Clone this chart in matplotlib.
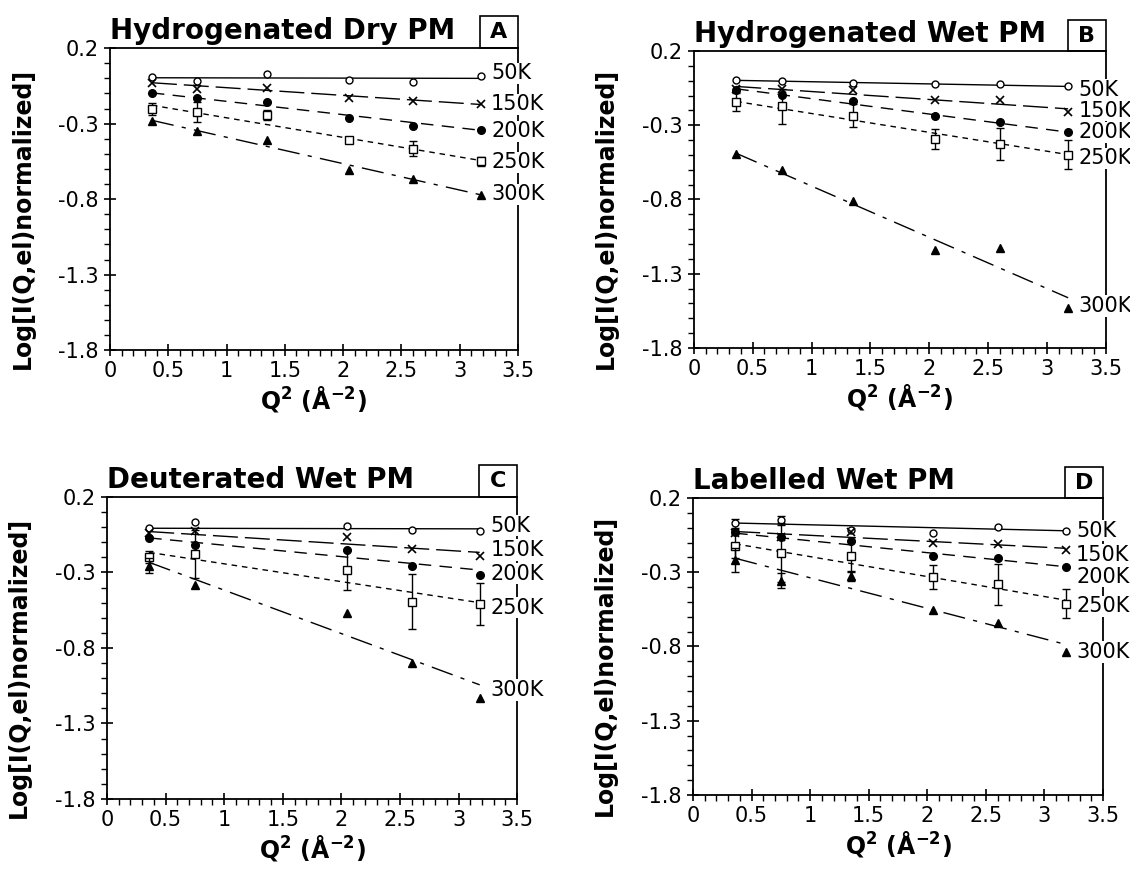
import numpy as np
import matplotlib
matplotlib.use("Agg")
import matplotlib.pyplot as plt
from matplotlib.patches import Rectangle

# Q^2 positions of the measurements (panel C has no point at 1.35)
q2 = [0.36, 0.75, 1.35, 2.05, 2.6, 3.18]
q2_c = [0.36, 0.75, 2.05, 2.6, 3.18]
temps = ["50K", "150K", "200K", "250K", "300K"]

# panel A - hydrogenated dry
a_50 = [0.011, -0.016, 0.027, -0.011, -0.022, 0.015]
a_150 = [-0.033, -0.073, -0.067, -0.129, -0.149, -0.173]
a_200 = [-0.100, -0.133, -0.156, -0.260, -0.316, -0.344]
a_250 = [-0.200, -0.222, -0.244, -0.411, -0.467, -0.549]
a_300 = [-0.284, -0.349, -0.407, -0.604, -0.667, -0.773]
a_250_err = [0.04, 0.065, 0.035, 0.02, 0.05, 0.03]
a_fit_start = [0.004, -0.029, -0.096, -0.178, -0.278]
a_fit_end = [0.0, -0.173, -0.344, -0.544, -0.771]

# panel B - hydrogenated wet
b_50 = [0.002, -0.003, -0.014, -0.021, -0.021, -0.039]
b_150 = [-0.055, -0.055, -0.066, -0.127, -0.133, -0.208]
b_200 = [-0.066, -0.095, -0.140, -0.237, -0.280, -0.347]
b_250 = [-0.145, -0.174, -0.235, -0.392, -0.426, -0.498]
b_300 = [-0.494, -0.600, -0.813, -1.142, -1.124, -1.530]
b_250_err = [0.06, 0.12, 0.08, 0.065, 0.11, 0.10]
b_fit_start = [0.002, -0.039, -0.055, -0.140, -0.489]
b_fit_end = [-0.039, -0.190, -0.347, -0.498, -1.462]

# panel C - deuterated wet
c_50 = [-0.005, 0.033, 0.009, -0.018, -0.022]
c_150 = [-0.040, -0.022, -0.067, -0.144, -0.189]
c_200 = [-0.071, -0.118, -0.151, -0.256, -0.316]
c_250 = [-0.196, -0.178, -0.284, -0.493, -0.511]
c_300 = [-0.256, -0.382, -0.567, -0.900, -1.133]
c_250_err = [0.04, 0.16, 0.13, 0.18, 0.14]
c_300_err = [0.05, 0, 0, 0, 0]
c_fit_start = [-0.007, -0.029, -0.071, -0.167, -0.233]
c_fit_end = [-0.011, -0.167, -0.284, -0.500, -1.044]

# panel D - labelled wet
d_50 = [0.031, 0.049, -0.014, -0.033, 0.004, -0.021]
d_150 = [-0.037, -0.064, -0.026, -0.100, -0.111, -0.150]
d_200 = [-0.026, -0.064, -0.087, -0.190, -0.202, -0.267]
d_250 = [-0.121, -0.168, -0.190, -0.330, -0.382, -0.511]
d_300 = [-0.218, -0.358, -0.326, -0.552, -0.640, -0.834]
d_50_err = [0.03, 0.03, 0, 0, 0, 0]
d_250_err = [0.08, 0.20, 0.10, 0.08, 0.14, 0.10]
d_300_err = [0.08, 0.05, 0.03, 0, 0, 0]
d_fit_start = [0.031, -0.026, -0.037, -0.109, -0.206]
d_fit_end = [-0.021, -0.139, -0.263, -0.488, -0.786]

# marker / line style per temperature
markers = [dict(marker="o", ms=5, mfc="white"),
           dict(marker="x", ms=6, mew=1.2),
           dict(marker="o", ms=5.5, mfc="black"),
           dict(marker="s", ms=6, mfc="white"),
           dict(marker="^", ms=6, mfc="black")]
dashes = ["-", (0, (18, 5)), (0, (9, 6)), (0, (4, 3.5)), (0, (16, 6, 3, 6))]

panels = [
    dict(rect=[0.0973, 0.598, 0.361, 0.3467], title="Hydrogenated Dry PM", tag="A",
         x=q2, ys=[a_50, a_150, a_200, a_250, a_300], errs={3: a_250_err},
         f0=a_fit_start, f1=a_fit_end, laby=[0.033, -0.173, -0.351, -0.556, -0.767]),
    dict(rect=[0.614, 0.6005, 0.3646, 0.341], title="Hydrogenated Wet PM", tag="B",
         x=q2, ys=[b_50, b_150, b_200, b_250, b_300], errs={3: b_250_err},
         f0=b_fit_start, f1=b_fit_end, laby=[-0.061, -0.201, -0.347, -0.523, -1.518]),
    dict(rect=[0.0947, 0.0827, 0.363, 0.3467], title="Deuterated Wet PM", tag="C",
         x=q2_c, ys=[c_50, c_150, c_200, c_250, c_300], errs={3: c_250_err, 4: c_300_err},
         f0=c_fit_start, f1=c_fit_end, laby=[0.011, -0.151, -0.307, -0.533, -1.078]),
    dict(rect=[0.6133, 0.0873, 0.3628, 0.341], title="Labelled Wet PM", tag="D",
         x=q2, ys=[d_50, d_150, d_200, d_250, d_300], errs={0: d_50_err, 3: d_250_err, 4: d_300_err},
         f0=d_fit_start, f1=d_fit_end, laby=[-0.021, -0.184, -0.330, -0.529, -0.838]),
]

plt.rcParams['font.family'] = ['DejaVu Sans']
fig = plt.figure(figsize=(11.3, 8.71), dpi=100)

for p in panels:
    ax = fig.add_axes(p["rect"])
    x = np.array(p["x"])
    for i in range(5):
        y = np.array(p["ys"][i])
        # fit line between first and last Q^2
        ax.plot([x[0], x[-1]], [p["f0"][i], p["f1"][i]], color="black", lw=1.0,
                linestyle=dashes[i])
        if i in p["errs"]:
            err = np.array(p["errs"][i])
            ax.errorbar(x, y, yerr=np.where(err > 0, err, np.nan), fmt="none",
                        ecolor="black", elinewidth=1.0, capsize=3, capthick=1.0)
        ax.plot(x, y, linestyle="none", color="black", mec="black", **markers[i])
        # temperature label sits over the right spine with a white backing
        ax.text(3.27, p["laby"][i], temps[i], fontsize=15, ha="left", va="center",
                clip_on=False, zorder=5,
                bbox=dict(facecolor="white", edgecolor="none", pad=0.5))

    ax.set_xlim(0, 3.5)
    ax.set_ylim(-1.8, 0.2)
    ax.set_xticks(np.arange(0, 3.51, 0.5))
    ax.set_xticklabels(["0", "0.5", "1", "1.5", "2", "2.5", "3", "3.5"])
    ax.set_xticks(np.arange(0, 3.51, 0.1), minor=True)
    ax.set_yticks([0.2, -0.3, -0.8, -1.3, -1.8])
    ax.set_yticklabels(["0.2", "-0.3", "-0.8", "-1.3", "-1.8"])
    ax.set_yticks(np.arange(-1.8, 0.21, 0.1), minor=True)
    ax.tick_params(which="major", direction="inout", length=9, width=1.2, labelsize=15)
    ax.tick_params(which="minor", direction="out", length=4, width=1.0)
    for s in ax.spines.values():
        s.set_linewidth(1.3)

    ax.set_xlabel(r"Q$^\mathbf{2}$ (Å$^\mathbf{-2}$)", fontsize=17, fontweight="bold", labelpad=2)
    ax.set_ylabel("Log[I(Q,el)normalized]", fontsize=17, fontweight="bold")
    ax.yaxis.set_label_coords(-0.185, 0.437)

    ax.text(0.0, 1.03, p["title"], transform=ax.transAxes, fontsize=20,
            fontweight="bold", ha="left", va="baseline")
    ax.add_patch(Rectangle((0.907, 1.0), 0.093, 0.105, transform=ax.transAxes,
                           fill=False, ec="black", lw=1.2, clip_on=False))
    ax.text(0.9535, 1.052, p["tag"], transform=ax.transAxes, fontsize=16,
            fontweight="bold", ha="center", va="center")

fig.savefig("out.png", dpi=100)
